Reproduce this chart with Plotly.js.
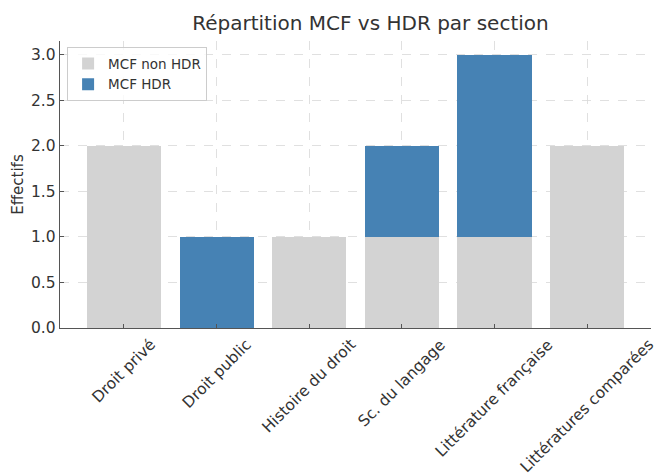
<!DOCTYPE html>
<html><head><meta charset="utf-8">
<script src="https://cdn.plot.ly/plotly-3.0.1.min.js"></script>
<style>html,body{margin:0;padding:0;background:#fff}#chart{width:658px;height:476px}</style>
</head><body><div id="chart"></div>
<script>
const categories = ["Droit privé", "Droit public", "Histoire du droit", "Sc. du langage", "Littérature française", "Littératures comparées"];
const mcfNonHdr = [2, 0, 1, 1, 1, 2];
const mcfHdr = [0, 1, 0, 1, 2, 0];

const FAM = "'DejaVu Sans', sans-serif";
const TXT = "#333";
const traces = [
  {type: "bar", name: "MCF non HDR", x: categories, y: mcfNonHdr, marker: {color: "#d3d3d3", line: {width: 0}}, width: 0.8},
  {type: "bar", name: "MCF HDR", x: categories, y: mcfHdr, marker: {color: "#4682b4", line: {width: 0}}, width: 0.8}
];
const annotations = categories.map(c => ({
  x: c, y: 0, xref: "x", yref: "y", text: c, showarrow: false,
  textangle: -45, xanchor: "center", yanchor: "top", yshift: -5,
  font: {family: FAM, size: 15.5, color: TXT}
}));
const layout = {
  width: 658, height: 476,
  barmode: "stack",
  font: {family: FAM, color: TXT, size: 15},
  paper_bgcolor: "#fff", plot_bgcolor: "#fff",
  margin: {l: 60, r: 7, t: 41, b: 148},
  title: {text: "Répartition MCF vs HDR par section", font: {family: FAM, size: 20, color: TXT}, x: 0.563, xanchor: "center", y: 0.952, yanchor: "middle"},
  xaxis: {
    range: [-0.69, 5.69], showticklabels: false, showline: true, linecolor: "#555", linewidth: 1.3,
    showgrid: true, gridcolor: "#d8d8d8", griddash: "dash", gridwidth: 0.8,
    ticks: "inside", ticklen: 4, tickcolor: "#555"
  },
  yaxis: {
    range: [0, 3.15], dtick: 0.5, tickformat: ".1f", showline: true, linecolor: "#555", linewidth: 1.3,
    showgrid: true, gridcolor: "#d8d8d8", griddash: "dash", gridwidth: 0.8, zeroline: false,
    ticks: "inside", ticklen: 4, tickcolor: "#555", tickfont: {family: FAM, size: 15.5, color: TXT},
    title: {text: "Effectifs", font: {family: FAM, size: 15, color: TXT}, standoff: 3}
  },
  annotations: annotations,
  legend: {x: 0.012, y: 0.978, xanchor: "left", yanchor: "top", bgcolor: "rgba(255,255,255,0.8)", bordercolor: "#ccc", borderwidth: 1, font: {family: FAM, size: 13.5, color: TXT}, traceorder: "normal", tracegroupgap: 0},
  showlegend: true
};
Plotly.newPlot("chart", traces, layout, {displayModeBar: false, staticPlot: true});
</script></body></html>
